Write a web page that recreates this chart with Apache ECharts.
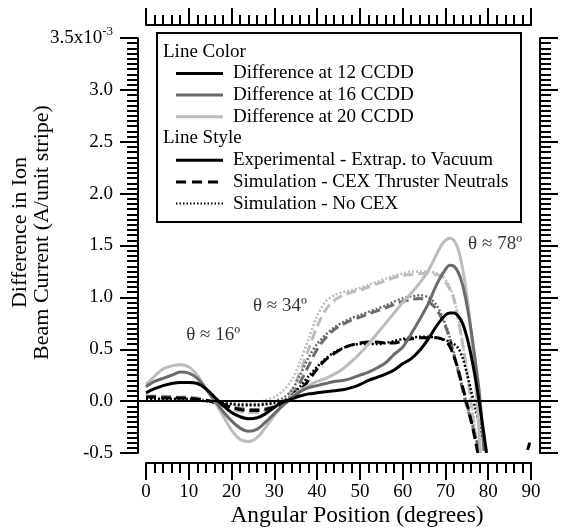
<!DOCTYPE html>
<html><head><meta charset="utf-8">
<script src="https://cdn.jsdelivr.net/npm/echarts@6/dist/echarts.min.js"></script>
<style>html,body{margin:0;padding:0;background:#fff}#c{width:561px;height:530px}</style>
</head><body><div id="c"></div>
<script>
const FONT = '"Liberation Serif", "Times New Roman", serif';
// shared angles (degrees) for 0..64
const baseAng = [0,2,4,6,8,10,12,14,16,18,20,22,24,26,28,30,32,34,36,38,40,42,44,46,48,50,52,54,56,58,60,62,64];
// Experimental - Extrap. to Vacuum (x1e-3 A/unit stripe)
const exp12 = [.08,.12,.15,.17,.18,.18,.17,.12,.04,-.04,-.11,-.15,-.17,-.16,-.12,-.06,-.01,.02,.05,.07,.08,.09,.10,.11,.13,.16,.20,.23,.26,.30,.36,.41,.49];
const exp12TailAng = [66,68,70,71,72,73,74,75,76,77,78,79,79.6];
const exp12Tail = [.60,.73,.83,.85,.85,.82,.75,.62,.44,.22,-.04,-.32,-.5];
const exp16 = [.14,.19,.22,.25,.28,.27,.22,.12,.01,-.10,-.19,-.26,-.29,-.27,-.20,-.12,-.04,.03,.09,.13,.15,.17,.19,.20,.22,.25,.28,.32,.37,.45,.52,.65,.79];
const exp16TailAng = [66,68,70,71,72,73,74,75,76,77,78,79];
const exp16Tail = [.94,1.13,1.27,1.31,1.30,1.24,1.12,.93,.68,.38,.05,-.48];
const exp20 = [.16,.24,.31,.34,.35,.33,.25,.12,.00,-.14,-.28,-.37,-.39,-.35,-.25,-.14,-.04,.04,.10,.15,.19,.22,.26,.31,.38,.46,.55,.65,.75,.85,.95,1.04,1.14];
const exp20TailAng = [66,68,69,70,71,72,73,74,75,76,77,78.2];
const exp20Tail = [1.26,1.42,1.50,1.55,1.57,1.55,1.46,1.28,1.02,.66,.20,-.5];
// Simulation - CEX Thruster Neutrals
const cex12 = [.04,.04,.03,.03,.03,.03,.02,.01,-.01,-.03,-.06,-.08,-.09,-.09,-.08,-.06,-.03,.02,.10,.20,.31,.40,.46,.51,.54,.56,.57,.57,.56,.56,.58,.60,.61];
const cex12TailAng = [66,68,70,71,72,73,74,75,76,77,77.6];
const cex12Tail = [.61,.61,.58,.53,.43,.30,.14,-.02,-.19,-.38,-.5];
const cex16 = [.04,.04,.04,.04,.03,.03,.02,.01,-.01,-.04,-.06,-.07,-.08,-.08,-.07,-.05,-.02,.05,.18,.34,.50,.61,.69,.74,.78,.81,.84,.87,.90,.93,.96,.98,.99];
const cex16TailAng = [66,68,70,71,72,73,74,75,76,77,78];
const cex16Tail = [.96,.88,.72,.60,.44,.28,.11,-.05,-.19,-.34,-.48];
const cex20 = [.05,.05,.05,.04,.04,.04,.03,.01,-.02,-.05,-.08,-.10,-.11,-.11,-.09,-.05,.00,.10,.28,.50,.72,.88,.97,1.02,1.05,1.07,1.10,1.13,1.16,1.19,1.21,1.22,1.23];
const cex20TailAng = [66,68,69,70,71,72,73,74,75,76,77,77.4];
const cex20Tail = [1.23,1.22,1.20,1.15,1.08,.98,.78,.55,.30,-.04,-.35,-.48];
// Simulation - No CEX
const nocex12 = [.02,.02,.02,.02,.02,.02,.01,.00,-.01,-.02,-.03,-.04,-.04,-.04,-.03,-.02,.00,.05,.14,.24,.33,.41,.47,.51,.54,.55,.55,.55,.56,.58,.60,.61,.62];
const nocex12TailAng = [66,68,70,71,72,73,74,75,76,77,78,79,79.6];
const nocex12Tail = [.62,.61,.59,.57,.55,.51,.42,.27,.10,-.07,-.23,-.40,-.5];
const nocex16 = [.02,.02,.02,.02,.02,.02,.01,.00,-.01,-.02,-.02,-.03,-.03,-.03,-.02,.00,.03,.10,.25,.42,.55,.64,.71,.76,.80,.83,.86,.89,.92,.96,.99,1.01,1.02];
const nocex16TailAng = [66,68,70,71,72,73,74,75,76,77,78];
const nocex16Tail = [1.00,.92,.74,.62,.46,.30,.13,-.03,-.18,-.33,-.48];
const nocex20 = [.03,.03,.03,.03,.02,.02,.02,.01,.00,-.01,-.02,-.02,-.02,-.01,.01,.04,.10,.20,.38,.60,.82,.96,1.02,1.05,1.07,1.09,1.12,1.15,1.18,1.21,1.23,1.25,1.25];
const nocex20TailAng = [66,68,69,70,71,72,73,74,75,76,77,77.5];
const nocex20Tail = [1.25,1.23,1.21,1.17,1.10,.99,.80,.56,.30,.02,-.30,-.48];
// stray fragment near 90 deg
const strayAng = [89.2, 89.7];
const strayVal = [-0.47, -0.40];
// reference angles and annotation labels
const refAngles = [16, 34, 78];
const annotAng = [15.7, 31.3, 81.6];
const annotVal = [0.64, 0.92, 1.51];
const annotText = ['θ ≈ 16º', 'θ ≈ 34º', 'θ ≈ 78º'];
const xTicks = {min: 0, max: 90, interval: 10};
const yTicks = {min: -0.5, max: 3.5, interval: 0.5};
const legendColors = ['Difference at 12 CCDD', 'Difference at 16 CCDD', 'Difference at 20 CCDD'];
const legendStyles = ['Experimental - Extrap. to Vacuum', 'Simulation - CEX Thruster Neutrals', 'Simulation - No CEX'];

const C12 = '#000000', C16 = '#6b6b6b', C20 = '#bdbdbd';
function zip(a, b){ return a.map((x,i)=>[x, b[i]]); }
function pts(vals, tailAng, tail){ return zip(baseAng.concat(tailAng), vals.concat(tail)); }
function ser(name, data, color, type, width){
  return {name, type:'line', xAxisIndex:2, yAxisIndex:2, data, smooth:0.3, symbol:'none',
    lineStyle:{color, width, type, cap:'butt'}, z:3};
}
const DASH = [10,5], DOT = [2,2];
const series = [
  ser('n20', pts(nocex20, nocex20TailAng, nocex20Tail), C20, DOT, 2.5),
  ser('c20', pts(cex20, cex20TailAng, cex20Tail), C20, DASH, 3),
  ser('n16', pts(nocex16, nocex16TailAng, nocex16Tail), C16, DOT, 2.5),
  ser('c16', pts(cex16, cex16TailAng, cex16Tail), C16, DASH, 3),
  ser('n12', pts(nocex12, nocex12TailAng, nocex12Tail), C12, DOT, 2.5),
  ser('c12', pts(cex12, cex12TailAng, cex12Tail), C12, DASH, 3),
  ser('e20', pts(exp20, exp20TailAng, exp20Tail), C20, 'solid', 3),
  ser('e16', pts(exp16, exp16TailAng, exp16Tail), C16, 'solid', 3),
  ser('e12', pts(exp12, exp12TailAng, exp12Tail), C12, 'solid', 3),
  ser('stray', zip(strayAng, strayVal), C12, 'solid', 3),
];
// reference lines
series.push({type:'line', xAxisIndex:2, yAxisIndex:2, data:[], z:1, silent:true,
  markLine:{silent:true, symbol:'none', label:{show:false}, animation:false,
    data:[
      {yAxis:0, lineStyle:{color:'#000', width:2, type:'solid'}},
      ...refAngles.map(a=>[{coord:[a,-0.6], lineStyle:{color:'#8a8a8a', width:1, type:[1,2]}},{coord:[a,3.0]}])
    ]}});
// annotations
series.push({type:'scatter', xAxisIndex:2, yAxisIndex:2, symbolSize:1, itemStyle:{color:'rgba(0,0,0,0)'}, z:5,
  data: annotAng.map((a,i)=>({value:[a, annotVal[i]], name:annotText[i]})),
  label:{show:true, position:'inside', formatter:p=>p.name, fontFamily:FONT, fontSize:19, color:'#000'}});

const axLine = {show:true, onZero:false, lineStyle:{color:'#000', width:2}};
const tickMaj = {show:true, length:17, lineStyle:{color:'#000', width:2}};
const legendG = [];
const LX = 157, LY = 33, LW = 364, LH = 189, ROW = 21.7;
legendG.push({type:'rect', shape:{x:LX, y:LY, width:LW, height:LH}, style:{fill:'#fff', stroke:'#000', lineWidth:2}, z:100});
function ltext(t, x, y){ legendG.push({type:'text', x, y, style:{text:t, font:'19px ' + FONT, fill:'#000', verticalAlign:'middle'}, z:101}); }
function lline(y, color, dash, w){ legendG.push({type:'line', shape:{x1:176, y1:y, x2:223, y2:y}, style:{stroke:color, lineWidth:w, lineDash:dash}, z:101}); }
let yy = LY + 18.7;
ltext('Line Color', 163, yy);
[C12, C16, C20].forEach((c,i)=>{ yy += ROW; lline(yy, c, null, 3); ltext(legendColors[i], 233, yy); });
yy += ROW; ltext('Line Style', 163, yy);
[[null,3],[[10,6],3],[[1.5,2],2]].forEach((s,i)=>{ yy += ROW; lline(yy, '#000', s[0], s[1]); ltext(legendStyles[i], 233, yy); });

const option = {
  animation:false,
  backgroundColor:'#fff',
  textStyle:{fontFamily:FONT},
  grid:[
    {left:146, right:30, top:38, bottom:77, containLabel:false, outerBoundsMode:'none'},
    {left:138, right:21, top:25, bottom:67, containLabel:false, outerBoundsMode:'none'}
  ],
  xAxis:[
    {gridIndex:0, type:'value', position:'bottom', offset:10, ...xTicks,
     axisLine:axLine, axisTick:tickMaj, minorTick:{show:true, splitNumber:5, length:10, lineStyle:{color:'#000', width:2}},
     splitLine:{show:false}, minorSplitLine:{show:false},
     axisLabel:{margin:20, fontSize:19, fontFamily:FONT, color:'#000'},
     name:'Angular Position (degrees)', nameLocation:'middle', nameGap:41, nameMoveOverlap:false,
     nameTextStyle:{fontSize:23.5, fontFamily:FONT, color:'#000', padding:[0,0,0,37]}},
    {gridIndex:0, type:'value', position:'top', offset:13, ...xTicks,
     axisLine:axLine, axisTick:tickMaj, minorTick:{show:true, splitNumber:5, length:10, lineStyle:{color:'#000', width:2}},
     splitLine:{show:false}, axisLabel:{show:false}},
    {gridIndex:1, type:'value', min:-1.87, max:92.1, show:false, splitLine:{show:false}}
  ],
  yAxis:[
    {gridIndex:0, type:'value', position:'left', offset:8, ...yTicks,
     axisLine:axLine, axisTick:{show:true, length:18, lineStyle:{color:'#000', width:2}},
     minorTick:{show:true, splitNumber:10, length:11, lineStyle:{color:'#000', width:2}},
     splitLine:{show:false},
     axisLabel:{margin:25, fontSize:19, fontFamily:FONT, color:'#000',
       formatter:v=> Math.abs(v-3.5)<1e-9 ? '{b|3.5x10}{sup|-3}' : v.toFixed(1),
       rich:{b:{fontSize:19, fontFamily:FONT, color:'#000'}, sup:{fontSize:13, fontFamily:FONT, color:'#000', padding:[0,0,12,0]}}},
     name:'Difference in Ion\nBeam Current (A/unit stripe)', nameLocation:'middle', nameGap:85, nameRotate:90, nameMoveOverlap:false,
     nameTextStyle:{fontSize:22, lineHeight:22, fontFamily:FONT, color:'#000', padding:[0,0,0,26]}},
    {gridIndex:0, type:'value', position:'right', offset:9, ...yTicks,
     axisLine:axLine, axisTick:{show:true, length:18, lineStyle:{color:'#000', width:2}},
     minorTick:{show:true, splitNumber:10, length:11, lineStyle:{color:'#000', width:2}},
     splitLine:{show:false}, axisLabel:{show:false}},
    {gridIndex:1, type:'value', min:-0.596, max:3.625, show:false, splitLine:{show:false}}
  ],
  series,
  graphic: legendG
};
const chart = echarts.init(document.getElementById('c'), null, {renderer:'canvas'});
chart.setOption(option);
</script></body></html>
